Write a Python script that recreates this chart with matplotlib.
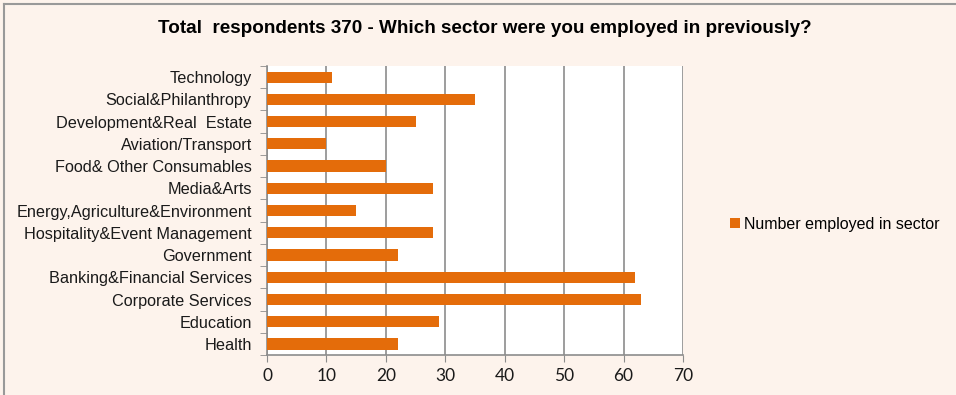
import matplotlib.pyplot as plt
from matplotlib.lines import Line2D
from matplotlib.patches import Patch
import numpy as np

sectors = [
    "Technology", "Social&Philanthropy", "Development&Real  Estate",
    "Aviation/Transport", "Food& Other Consumables", "Media&Arts",
    "Energy,Agriculture&Environment", "Hospitality&Event Management",
    "Government", "Banking&Financial Services", "Corporate Services",
    "Education", "Health",
]
employed = [11, 35, 25, 10, 20, 28, 15, 28, 22, 62, 63, 29, 22]
x_ticks = [0, 10, 20, 30, 40, 50, 60, 70]

bar_color = "#E46C0A"
bg_color = "#FDF3EC"
grid_color = "#8C8C8C"

fig = plt.figure(figsize=(9.56, 3.95), dpi=100, facecolor=bg_color)
ax = fig.add_axes([0.2793, 0.101, 0.4351, 0.732])
ax.set_facecolor("white")

y = np.arange(len(sectors))
ax.barh(y, employed, height=0.5, color=bar_color, zorder=3)
ax.set_ylim(len(sectors) - 0.5, -0.5)
ax.set_xlim(0, 70)

ax.set_yticks(y)
ax.set_yticklabels(sectors, fontsize=11.7, family="Liberation Sans", color="#1a1a1a")
ax.tick_params(axis="y", length=0, pad=11)
ax.set_yticks(np.arange(-0.5, len(sectors), 1), minor=True)
ax.tick_params(axis="y", which="minor", length=5, color=grid_color, direction="out")

ax.set_xticks(x_ticks)
ax.set_xticklabels([str(t) for t in x_ticks], fontsize=12.5, family="Lato", color="#1a1a1a")
ax.tick_params(axis="x", length=5, color=grid_color, pad=4)

ax.grid(axis="x", color=grid_color, linewidth=1.2, zorder=1)
for side in ["top", "right"]:
    ax.spines[side].set_visible(False)
for side in ["left", "bottom"]:
    ax.spines[side].set_color(grid_color)
    ax.spines[side].set_linewidth(1.2)

fig.text(0.507, 0.928, "Total  respondents 370 - Which sector were you employed in previously?",
         ha="center", va="center", fontsize=13.6, fontweight="bold",
         family="Liberation Sans")

handle = Patch(facecolor=bar_color, edgecolor="none")
fig.legend([handle], ["Number employed in sector"], loc="center left",
           bbox_to_anchor=(0.749, 0.432), frameon=False,
           prop={"family": "Liberation Sans", "size": 11.5},
           handlelength=0.6, handleheight=0.6, handletextpad=0.25)

# chart frame (only top and left edges fall inside the image)
fig.add_artist(Line2D([4 / 956, 4 / 956], [0, 1 - 4 / 395], transform=fig.transFigure,
                      color="#999999", linewidth=1.5))
fig.add_artist(Line2D([4 / 956, 1], [1 - 4 / 395, 1 - 4 / 395], transform=fig.transFigure,
                      color="#999999", linewidth=1.5))

fig.savefig("out.png", dpi=100, facecolor=bg_color)
